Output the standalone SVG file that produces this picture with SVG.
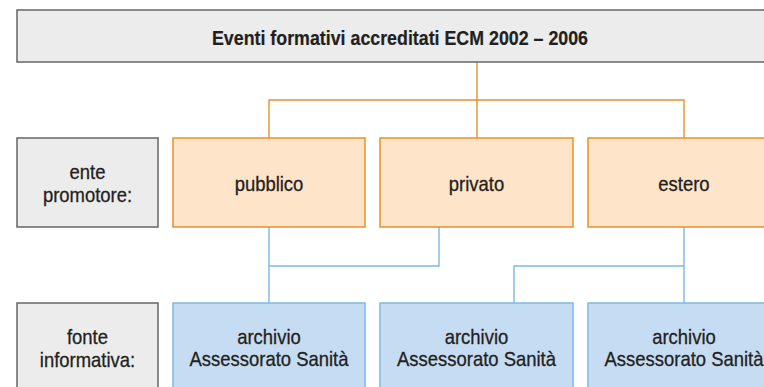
<svg xmlns="http://www.w3.org/2000/svg" width="764" height="387" viewBox="0 0 764 387">
<style>
text{font-family:"Liberation Sans",Arial,sans-serif;font-size:20.5px;fill:#231f20;stroke:#231f20;stroke-width:0.3;text-anchor:middle}
.t{font-weight:bold;font-size:19.5px;stroke-width:0.2}
.g{fill:#ececec;stroke:#666;stroke-width:1.5}
.o{fill:#fee4c8;stroke:#e8912e;stroke-width:1.5}
.b{fill:#c6dcf2;stroke:#7cb9e2;stroke-width:1.5}
.lo{fill:none;stroke:#e8912e;stroke-width:1.4}
.lb{fill:none;stroke:#7cb9e2;stroke-width:1.4}
</style>
<rect width="764" height="387" fill="#fff"/>
<g id="connectors">
<path class="lo" d="M477 62V100M269 138V100H684V138M477 100V138"/>
<path class="lb" d="M269 227V303M269 266H439V227M684 227V303M684 266H514V303"/>
</g>
<g id="title"><rect class="g" x="17" y="10" width="760" height="52"/><text class="t" transform="scale(0.9,1)" x="444.44" y="45" textLength="417.8" lengthAdjust="spacingAndGlyphs">Eventi formativi accreditati ECM 2002 – 2006</text></g>
<g id="label-ente"><rect class="g" x="17" y="138" width="141" height="89"/><g transform="scale(0.9,1)"><text x="97.22" y="179">ente</text><text x="97.22" y="202">promotore:</text></g></g>
<g id="pubblico"><rect class="o" x="173" y="138" width="192" height="89"/><text transform="scale(0.9,1)" x="298.89" y="191">pubblico</text></g>
<g id="privato"><rect class="o" x="380" y="138" width="193" height="89"/><text transform="scale(0.9,1)" x="529.44" y="191">privato</text></g>
<g id="estero"><rect class="o" x="588" y="138" width="193" height="89"/><text transform="scale(0.9,1)" x="760" y="191">estero</text></g>
<g id="label-fonte"><rect class="g" x="17" y="303" width="141" height="95"/><g transform="scale(0.9,1)"><text x="97.22" y="344">fonte</text><text x="97.22" y="367">informativa:</text></g></g>
<g id="archivio1"><rect class="b" x="173" y="303" width="192" height="95"/><g transform="scale(0.9,1)"><text x="298.89" y="344">archivio</text><text x="298.89" y="366">Assessorato Sanità</text></g></g>
<g id="archivio2"><rect class="b" x="380" y="303" width="193" height="95"/><g transform="scale(0.9,1)"><text x="529.44" y="344">archivio</text><text x="529.44" y="366">Assessorato Sanità</text></g></g>
<g id="archivio3"><rect class="b" x="588" y="303" width="193" height="95"/><g transform="scale(0.9,1)"><text x="760" y="344">archivio</text><text x="760" y="366">Assessorato Sanità</text></g></g>
</svg>
